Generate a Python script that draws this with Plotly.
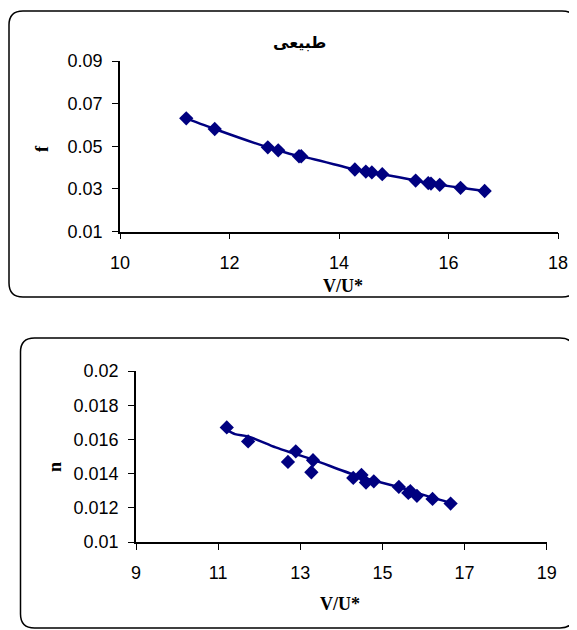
import plotly.graph_objects as go

# ---- data ----
v_u = [11.21, 11.73, 12.70, 12.89, 13.27, 13.31, 14.29, 14.49, 14.60, 14.79,
       15.40, 15.63, 15.68, 15.84, 16.22, 16.66]
f_vals = [0.0631, 0.0581, 0.0495, 0.0481, 0.0453, 0.0453, 0.0391, 0.0381, 0.0377, 0.0369,
          0.0339, 0.0327, 0.0325, 0.0319, 0.0305, 0.0290]
n_vals = [0.0167, 0.01588, 0.01468, 0.0153, 0.01408, 0.01478, 0.01375, 0.01392, 0.01348, 0.01355,
          0.01322, 0.01287, 0.01297, 0.0127, 0.01252, 0.01225]
trend_x = [11.21, 11.41, 11.73, 12.40, 12.88, 13.30, 14.30, 14.79, 15.40, 15.84, 16.65]
trend_n = [0.01656, 0.01631, 0.01617, 0.01553, 0.01515, 0.01482, 0.01394, 0.01359, 0.01322, 0.01287, 0.01229]

title_top = "طبیعی"
x_title = "V/U*"
f_ticks = [0.01, 0.03, 0.05, 0.07, 0.09]
f_tick_text = ["0.01", "0.03", "0.05", "0.07", "0.09"]
n_ticks = [0.01, 0.012, 0.014, 0.016, 0.018, 0.02]
n_tick_text = ["0.01", "0.012", "0.014", "0.016", "0.018", "0.02"]

# the page body adds an 8px offset; positions below are in page pixels
OFF = 8
W, H = 577, 630
NAVY = "#000080"

fig = go.Figure()
fig.add_trace(go.Scatter(x=v_u, y=f_vals, mode="lines+markers", xaxis="x", yaxis="y",
                         line=dict(color=NAVY, width=2.5, shape="spline", smoothing=0.6),
                         marker=dict(symbol="diamond", size=11, color=NAVY),
                         showlegend=False))
fig.add_trace(go.Scatter(x=v_u, y=n_vals, mode="markers", xaxis="x2", yaxis="y2",
                         marker=dict(symbol="diamond", size=11, color=NAVY),
                         showlegend=False))
fig.add_trace(go.Scatter(x=trend_x, y=trend_n, mode="lines", xaxis="x2", yaxis="y2",
                         line=dict(color=NAVY, width=2.5, shape="spline", smoothing=0.8),
                         showlegend=False))

tickfont = dict(family="Liberation Sans, Arial", size=18, color="black")
titlefont = dict(family="Liberation Serif, Times New Roman", size=18, color="black")
ax_common = dict(showgrid=False, zeroline=False, showline=True, linecolor="black", linewidth=1.6,
                 ticks="outside", ticklen=6, tickcolor="black", tickwidth=1.4, tickfont=tickfont,
                 automargin=False)

def px(x):
    return (x - OFF) / W

def py(y):
    return 1 - (y - OFF) / H

fig.update_layout(
    width=W, height=H, autosize=False, margin=dict(l=0, r=0, t=0, b=0, pad=0, autoexpand=False),
    paper_bgcolor="white", plot_bgcolor="white",
    xaxis=dict(domain=[px(120), px(558)], range=[10, 18], tickvals=[10, 12, 14, 16, 18],
               anchor="y", ticklabelstandoff=8, **ax_common),
    yaxis=dict(domain=[py(231.5), py(61)], range=[0.01, 0.09], tickvals=f_ticks, ticktext=f_tick_text,
               anchor="x", ticklabelstandoff=6, **ax_common),
    xaxis2=dict(domain=[px(136), px(546.7)], range=[9, 19], tickvals=[9, 11, 13, 15, 17, 19],
                anchor="y2", ticklabelstandoff=8, **ax_common),
    yaxis2=dict(domain=[py(542), py(371)], range=[0.01, 0.02], tickvals=n_ticks, ticktext=n_tick_text,
                anchor="x2", ticklabelstandoff=6, **ax_common),
)

def rounded(x0, y0, x1, y1, r):
    X0, X1 = px(x0), px(x1)
    Y0, Y1 = py(y0), py(y1)
    rx, ry = r / W, r / H
    return (f"M {X0+rx},{Y0} L {X1-rx},{Y0} Q {X1},{Y0} {X1},{Y0-ry} "
            f"L {X1},{Y1+ry} Q {X1},{Y1} {X1-rx},{Y1} "
            f"L {X0+rx},{Y1} Q {X0},{Y1} {X0},{Y1+ry} "
            f"L {X0},{Y0-ry} Q {X0},{Y0} {X0+rx},{Y0} Z")

fig.update_layout(shapes=[
    dict(type="path", path=rounded(9, 11, 576, 297, 14), xref="paper", yref="paper",
         line=dict(color="black", width=1.5)),
    dict(type="path", path=rounded(20.5, 338, 574, 628, 14), xref="paper", yref="paper",
         line=dict(color="black", width=1.5)),
])

def label(text, x, y, font, angle=0):
    return dict(text=text, x=px(x), y=py(y), xref="paper", yref="paper", showarrow=False,
                xanchor="center", yanchor="middle", textangle=angle, font=font)

ann = [
    label(f"<b>{title_top}</b>", 300, 42, dict(family="DejaVu Sans, Noto Sans", size=16, color="black")),
    label(f"<b>{x_title}</b>", 343, 286, titlefont),
    label(f"<b>{x_title}</b>", 340, 604, titlefont),
    label("<b>f</b>", 42, 149, titlefont, -90),
    label("<b>n</b>", 55, 467, titlefont, -90),
]
fig.update_layout(annotations=ann)

fig.write_html("out.html")
